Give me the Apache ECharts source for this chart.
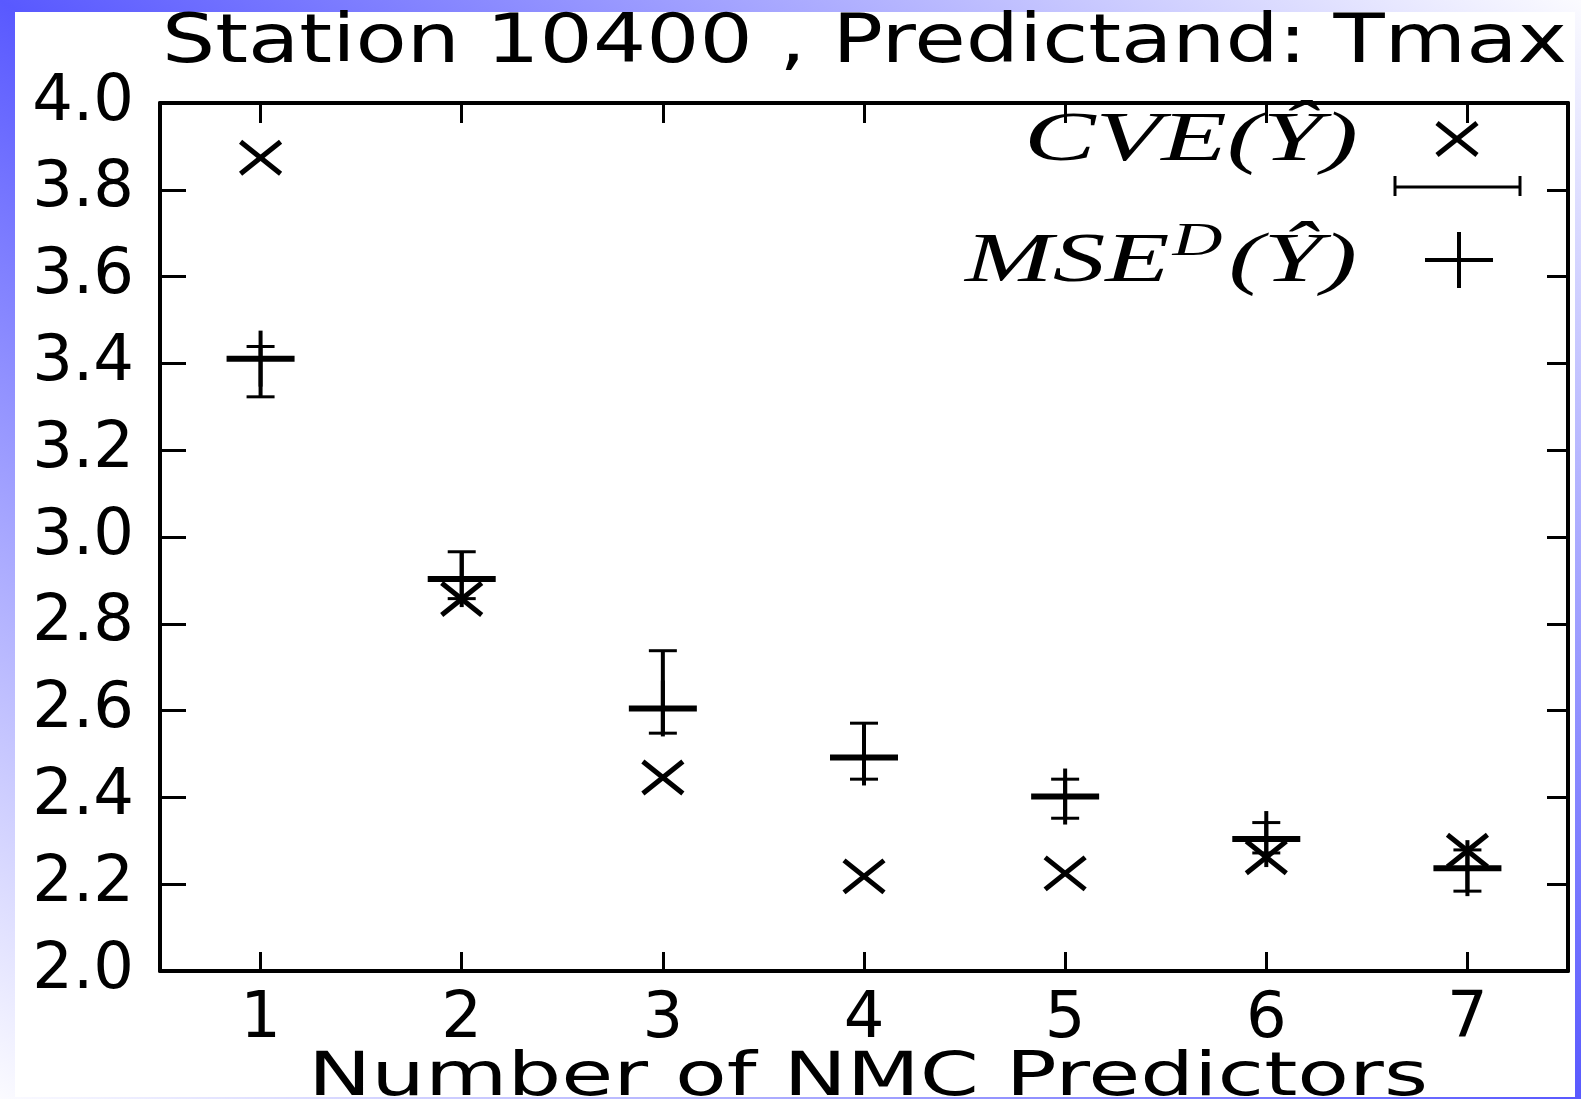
<!DOCTYPE html>
<html><head><meta charset="utf-8">
<script src="https://cdn.jsdelivr.net/npm/echarts@6/dist/echarts.min.js"></script>
<style>
html,body{margin:0;padding:0;width:1581px;height:1099px;overflow:hidden;background:#fff}
#bg{position:absolute;left:0;top:0;width:1581px;height:1099px;background:linear-gradient(to top right,#fbfbff 0%,#5959ff 50%,#fbfbff 100%)}
#paper{position:absolute;left:15px;top:12px;width:1560px;height:1085px;background:#fff}
#chart{position:absolute;left:0;top:0;width:1581px;height:1099px}
</style></head><body>
<div id="bg"></div><div id="paper"></div><div id="chart"></div>
<script>
// ---- data ----
const xValues = [1, 2, 3, 4, 5, 6, 7];
const xTickLabels = ['1', '2', '3', '4', '5', '6', '7'];
const cveValues = [3.874, 2.857, 2.446, 2.218, 2.225, 2.262, 2.277];
const mseValues = [3.411, 2.903, 2.605, 2.492, 2.402, 2.304, 2.237];
const mseLow = [3.323, 2.858, 2.548, 2.442, 2.352, 2.272, 2.184];
const mseHigh = [3.439, 2.966, 2.738, 2.571, 2.442, 2.342, 2.279];
const titleText = 'Station 10400 , Predictand: Tmax';
const xAxisTitle = 'Number of NMC Predictors';
const legendCve = 'CVE(\u0176)';
const legendMse = ['MSE', 'D', '(\u0176)'];

// ---- helpers ----
const ctx = document.createElement('canvas').getContext('2d');
function textWidth(t, font) { ctx.font = font; return ctx.measureText(t).width; }
function fitted(t, font, left, right, yMid) {
  const w = textWidth(t, font);
  return { type: 'text', x: left, y: yMid, scaleX: (right - left) / w,
    style: { text: t, font: font, fill: '#000', textAlign: 'left', textVerticalAlign: 'middle' } };
}
const K = '#000';
function ln(x1, y1, x2, y2, w) {
  return { type: 'line', shape: { x1, y1, x2, y2 }, style: { stroke: K, lineWidth: w, lineCap: 'butt' } };
}
function crossX(cx, cy) {
  return [ln(cx - 20, cy - 16, cx + 20, cy + 16, 5), ln(cx - 20, cy + 16, cx + 20, cy - 16, 5)];
}

const cveData = xValues.map((x, i) => [x, cveValues[i]]);
const mseData = xValues.map((x, i) => [x, mseValues[i], mseLow[i], mseHigh[i]]);

function renderCve(params, api) {
  const c = api.coord([api.value(0), api.value(1)]);
  return { type: 'group', children: crossX(c[0], c[1]) };
}
function renderMse(params, api) {
  const x = api.value(0);
  const c = api.coord([x, api.value(1)]);
  const lo = api.coord([x, api.value(2)]);
  const hi = api.coord([x, api.value(3)]);
  return { type: 'group', children: [
    ln(c[0], hi[1], c[0], lo[1], 4),
    ln(c[0] - 14, hi[1], c[0] + 14, hi[1], 3),
    ln(c[0] - 14, lo[1], c[0] + 14, lo[1], 3),
    ln(c[0] - 34, c[1], c[0] + 34, c[1], 6),
    ln(c[0], c[1] - 28, c[0], c[1] + 28, 4)
  ] };
}

// ---- legend (MSE^D group) ----
const fMain = 'italic 70px "Liberation Serif"';
const fSup = 'italic 46px "Liberation Serif"';
const wM = textWidth(legendMse[0], fMain), wD = textWidth(legendMse[1], fSup), wP = textWidth(legendMse[2], fMain);
const mseNat = wM + 2 + wD + 4 + wP;
const mseGroup = { type: 'group', x: 965, y: 263, scaleX: (1357 - 965) / mseNat, children: [
  { type: 'text', x: 0, y: 0, style: { text: legendMse[0], font: fMain, fill: K, textAlign: 'left', textVerticalAlign: 'middle' } },
  { type: 'text', x: wM + 2, y: -20, style: { text: legendMse[1], font: fSup, fill: K, textAlign: 'left', textVerticalAlign: 'middle' } },
  { type: 'text', x: wM + 6 + wD, y: 0, style: { text: legendMse[2], font: fMain, fill: K, textAlign: 'left', textVerticalAlign: 'middle' } }
] };

const tickFont = { fontSize: 64, fontFamily: '"DejaVu Sans"', color: K };
const axisLine = { show: true, onZero: false, lineStyle: { color: K, width: 4 } };

const chart = echarts.init(document.getElementById('chart'), null, { renderer: 'canvas' });
chart.setOption({
  backgroundColor: 'transparent',
  animation: false,
  grid: { left: 160, top: 103, right: 13, bottom: 128, containLabel: false, outerBoundsMode: 'none' },
  xAxis: [
    { type: 'value', position: 'bottom', min: 0.5, max: 7.5, axisLine,
      axisTick: { show: true, inside: true, length: 19, customValues: xValues, lineStyle: { color: K, width: 3 } },
      axisLabel: Object.assign({ show: true, margin: 17, customValues: xValues,
        formatter: v => xTickLabels[xValues.indexOf(Math.round(v))] }, tickFont),
      splitLine: { show: false } },
    { type: 'value', position: 'top', min: 0.5, max: 7.5, axisLine,
      axisTick: { show: true, inside: true, length: 20, customValues: xValues, lineStyle: { color: K, width: 3 } },
      axisLabel: { show: false }, splitLine: { show: false } }
  ],
  yAxis: [
    { type: 'value', position: 'left', min: 2, max: 4, interval: 0.2, axisLine,
      axisTick: { show: true, inside: true, length: 26, lineStyle: { color: K, width: 3 } },
      axisLabel: Object.assign({ show: true, margin: 26, formatter: v => v.toFixed(1) }, tickFont),
      splitLine: { show: false } },
    { type: 'value', position: 'right', min: 2, max: 4, interval: 0.2, axisLine,
      axisTick: { show: true, inside: true, length: 21, lineStyle: { color: K, width: 3 } },
      axisLabel: { show: false }, splitLine: { show: false } }
  ],
  series: [
    { type: 'custom', name: 'CVE', xAxisIndex: 0, yAxisIndex: 0, data: cveData,
      encode: { x: 0, y: 1 }, renderItem: renderCve },
    { type: 'custom', name: 'MSE', xAxisIndex: 0, yAxisIndex: 0, data: mseData,
      encode: { x: 0, y: [1, 2, 3] }, renderItem: renderMse }
  ],
  graphic: { elements: [
    fitted(titleText, '67px "DejaVu Sans"', 162, 1567, 45),
    fitted(xAxisTitle, '60px "DejaVu Sans"', 308, 1428, 1079),
    fitted(legendCve, fMain, 1024, 1358, 142),
    { type: 'group', children: crossX(1457, 139).concat([
      ln(1394, 187, 1521, 187, 3), ln(1395, 176, 1395, 196, 3), ln(1520, 176, 1520, 196, 3),
      ln(1425, 260, 1493, 260, 4), ln(1459, 232, 1459, 288, 4)
    ]) },
    mseGroup
  ] }
});
</script></body></html>
